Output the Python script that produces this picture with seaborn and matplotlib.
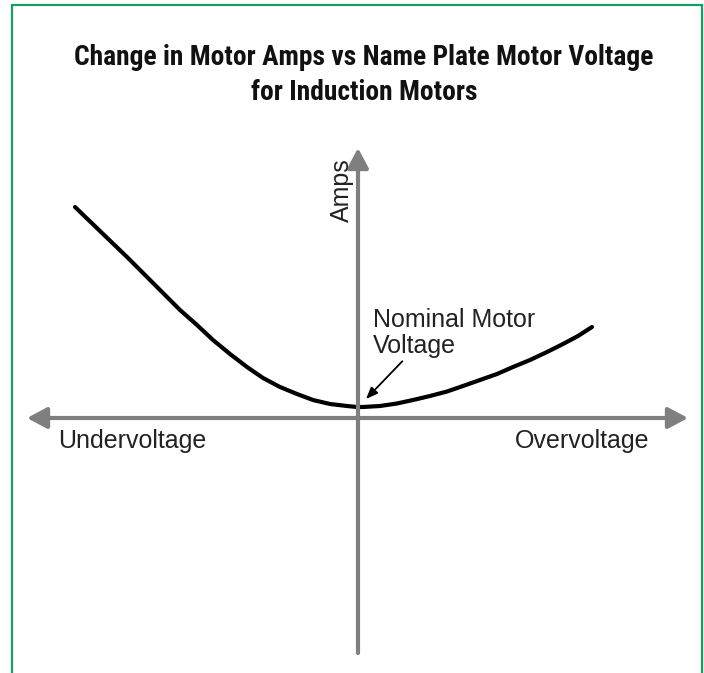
import matplotlib
matplotlib.use("Agg")
import matplotlib.pyplot as plt
import seaborn as sns
import pandas as pd
from matplotlib.lines import Line2D

# curve: voltage deviation vs motor amps (arbitrary units)
voltage = [-28.3, -25.7, -23.1, -20.5, -17.8, -16.1, -14.5, -12.8, -11.1, -9.5,
           -7.8, -6.1, -4.5, -2.8, -1.1, -0.1, 0.5, 2.2, 3.9, 5.5, 7.2, 8.9,
           10.5, 12.2, 13.9, 15.5, 17.2, 18.9, 20.5, 22.0, 23.4]
amps = [21.1, 18.6, 16.1, 13.5, 10.8, 9.3, 7.8, 6.4, 5.1, 4.0,
        3.1, 2.4, 1.8, 1.4, 1.2, 1.1, 1.1, 1.2, 1.45, 1.8, 2.2, 2.65,
        3.2, 3.8, 4.4, 5.1, 5.8, 6.6, 7.4, 8.2, 9.1]

title = "Change in Motor Amps vs Name Plate Motor Voltage\nfor Induction Motors"
x_labels = ["Undervoltage", "Overvoltage"]
y_label = "Amps"
note = "Nominal Motor\nVoltage"

df = pd.DataFrame({"voltage": voltage, "amps": amps})

sns.set_style("white")
plt.rcParams["font.family"] = ["Liberation Sans", "DejaVu Sans"]

fig = plt.figure(figsize=(7.04, 6.73), dpi=100)
ax = fig.add_axes([0, 0, 1, 1])
ax.set_xlim(-35.8, 34.6)
ax.set_ylim(-25.5, 41.8)
ax.axis("off")

grey = "#7f7f7f"
# horizontal axis with arrows both ends
ax.annotate("", xy=(33.0, 0), xytext=(-33.1, 0),
            arrowprops=dict(arrowstyle="<|-|>,head_length=0.6,head_width=0.32",
                            mutation_scale=20, color=grey, lw=3,
                            shrinkA=0, shrinkB=0))
# vertical axis, arrow on top only
ax.annotate("", xy=(0, 27.0), xytext=(0, -23.5),
            arrowprops=dict(arrowstyle="-|>,head_length=0.6,head_width=0.32",
                            mutation_scale=20, color=grey, lw=3,
                            shrinkA=0, shrinkB=0))

sns.lineplot(data=df, x="voltage", y="amps", ax=ax, color="black", lw=3,
             solid_capstyle="round", solid_joinstyle="round")

fs = 18
ax.text(-30.0, -2.3, x_labels[0], fontsize=fs, color="#222222", va="center", ha="left")
ax.text(29.1, -2.3, x_labels[1], fontsize=fs, color="#222222", va="center", ha="right")
ax.text(-1.6, 22.8, y_label, fontsize=fs, color="#222222", rotation=90,
        ha="center", va="center")
ax.annotate(note, xy=(0.8, 1.9), xytext=(1.5, 6.0), fontsize=fs, color="#222222",
            ha="left", va="bottom", linespacing=1.08,
            arrowprops=dict(arrowstyle="-|>,head_length=0.5,head_width=0.2",
                            mutation_scale=14, color="black", lw=1.3,
                            shrinkA=0, shrinkB=0,
                            relpos=(0.2, 0.0)))

# title in a condensed bold face, sized so the first line is ~579 px wide
t = fig.text(0.517, 0.935, title, fontsize=24, fontweight="bold", ha="center", va="top",
             color="#111111", linespacing=1.38,
             family=["Roboto Condensed", "Archivo Narrow", "DejaVu Sans"], stretch="condensed")
r = fig.canvas.get_renderer()
w = t.get_window_extent(r).width
t.set_fontsize(24 * 581 / w)

# green frame (open at the bottom)
green = "#16a05e"
for xs, ys in [([12, 12], [0, 668]), ([12, 702], [668, 668]), ([702, 702], [668, 0])]:
    fig.add_artist(Line2D([x / 704 for x in xs], [y / 673 for y in ys],
                          transform=fig.transFigure, color=green, lw=1.6))

fig.savefig("out.png", dpi=100)
